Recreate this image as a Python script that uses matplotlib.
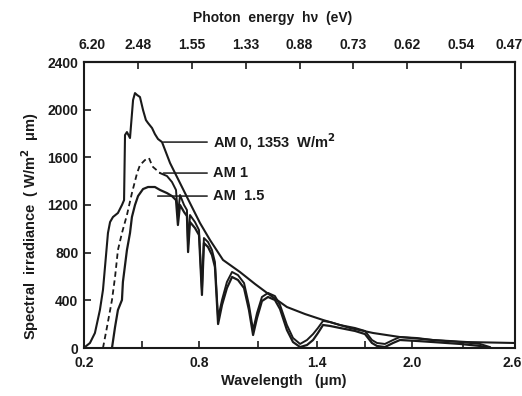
import matplotlib
matplotlib.use("Agg")
import matplotlib.pyplot as plt
import matplotlib.transforms as mtrans
import numpy as np

plt.rcParams['font.family'] = ['Liberation Sans', 'DejaVu Sans']
plt.rcParams['font.weight'] = 'bold'

# ---- data (wavelength in um, spectral irradiance in W/m^2 um) ----
am0_wl = [0.21, 0.231, 0.257, 0.283, 0.299, 0.315, 0.325, 0.336, 0.351, 0.377,
          0.398, 0.409, 0.414, 0.424, 0.44, 0.456, 0.466, 0.477, 0.492, 0.508,
          0.523, 0.534, 0.555, 0.57, 0.586, 0.607, 0.649, 0.701, 0.753, 0.805,
          0.856, 0.922, 1.008, 1.085, 1.146, 1.247, 1.339, 1.438, 1.608, 1.754,
          1.924, 2.122, 2.32, 2.6]
am0_E = [15, 42, 126, 319, 487, 780, 965, 1057, 1099, 1133,
         1200, 1241, 1787, 1812, 1762, 2081, 2139, 2123, 2106, 1997,
         1913, 1888, 1846, 1795, 1754, 1728, 1552, 1384, 1216, 1049,
         906, 739, 638, 537, 462, 344, 285, 235, 168, 126,
         92, 67, 50, 42]

am1_wl = [0.299, 0.32, 0.346, 0.362, 0.377, 0.398, 0.424, 0.45, 0.477, 0.492,
          0.518, 0.539, 0.55, 0.56, 0.597, 0.633, 0.659, 0.68, 0.69, 0.701,
          0.722, 0.737, 0.743, 0.753, 0.779, 0.8, 0.815, 0.825, 0.846, 0.866,
          0.881, 0.897, 0.917, 0.942, 0.968, 0.998, 1.029, 1.054, 1.075, 1.095,
          1.12, 1.151, 1.186, 1.212, 1.247, 1.278, 1.314, 1.349, 1.38, 1.406,
          1.438, 1.482, 1.545, 1.64, 1.703, 1.747, 1.779, 1.829, 1.88, 1.924,
          2.029, 2.122, 2.28, 2.396, 2.454]
am1_E = [0, 176, 403, 596, 822, 965, 1116, 1300, 1468, 1535,
         1577, 1594, 1552, 1519, 1468, 1443, 1393, 1326, 1116, 1284,
         1200, 1158, 864, 1116, 1057, 990, 487, 923, 889, 822,
         722, 252, 403, 554, 638, 612, 545, 361, 151, 294,
         428, 462, 436, 361, 193, 84, 34, 67, 117, 168,
         227, 218, 193, 168, 143, 67, 42, 34, 67, 92,
         84, 67, 50, 34, 8]

am15_wl = [0.346, 0.362, 0.377, 0.398, 0.403, 0.424, 0.44, 0.45, 0.466, 0.482,
           0.508, 0.534, 0.57, 0.597, 0.633, 0.659, 0.68, 0.69, 0.701, 0.722,
           0.737, 0.743, 0.753, 0.779, 0.8, 0.815, 0.825, 0.846, 0.866, 0.881,
           0.897, 0.917, 0.942, 0.968, 0.998, 1.029, 1.054, 1.075, 1.095, 1.12,
           1.151, 1.186, 1.212, 1.247, 1.278, 1.314, 1.349, 1.38, 1.406, 1.438,
           1.482, 1.545, 1.64, 1.703, 1.747, 1.779, 1.829, 1.88, 1.924, 2.029,
           2.122, 2.28, 2.396, 2.454]
am15_E = [0, 176, 319, 403, 554, 822, 965, 1099, 1200, 1275,
          1334, 1351, 1351, 1326, 1300, 1275, 1241, 1032, 1200, 1141,
          1107, 805, 1057, 1007, 948, 445, 881, 847, 780, 680,
          201, 361, 503, 596, 571, 503, 319, 109, 252, 394,
          428, 403, 327, 151, 50, 8, 25, 67, 126, 193,
          185, 168, 143, 117, 42, 17, 8, 42, 67, 59,
          50, 34, 17, 0]

bottom_ticks = [0.2, 0.8, 1.4, 2.0, 2.6]
bottom_labels = ['0.2', '0.8', '1.4', '2.0', '2.6']
bottom_minor = [0.5, 1.1, 1.7, 2.3]
y_ticks = [0, 400, 800, 1200, 1600, 2000, 2400]
top_ticks = [0.2, 0.5, 0.8, 1.1, 1.4, 1.7, 2.0, 2.3, 2.6]
top_labels = ['6.20', '2.48', '1.55', '1.33', '0.88', '0.73', '0.62', '0.54', '0.47']

# the original drawing's wavelength axis is not evenly divided;
# reproduce its spacing with a piecewise-linear scale
scale_wl = np.array([0.2, 0.8, 1.4, 2.0, 2.6])
scale_pos = np.array([0.0, 115.0, 233.0, 328.0, 431.0])


def _pw(v, xs, ys):
    v = np.asarray(v, dtype=float)
    out = np.interp(v, xs, ys)
    lo = v < xs[0]
    hi = v > xs[-1]
    s0 = (ys[1] - ys[0]) / (xs[1] - xs[0])
    s1 = (ys[-1] - ys[-2]) / (xs[-1] - xs[-2])
    out = np.where(lo, ys[0] + (v - xs[0]) * s0, out)
    out = np.where(hi, ys[-1] + (v - xs[-1]) * s1, out)
    return out


def fwd(v):
    return _pw(v, scale_wl, scale_pos)


def inv(v):
    return _pw(v, scale_pos, scale_wl)


ink = '#1a1a1a'

fig = plt.figure(figsize=(5.22, 3.96), dpi=100)
ax = fig.add_axes([84 / 522, 1 - 348 / 396, 431 / 522, 286 / 396])
ax.set_xscale('function', functions=(fwd, inv))

ax.plot(am0_wl, am0_E, color=ink, lw=1.5)
split = 15
ax.plot(am1_wl[:split], am1_E[:split], color=ink, lw=1.3, ls=(0, (3, 2)))
ax.plot(am1_wl[split - 1:], am1_E[split - 1:], color=ink, lw=1.4)
ax.plot(am15_wl, am15_E, color=ink, lw=1.6)

ax.set_xlim(0.2, 2.6)
ax.set_ylim(0, 2400)
ax.set_xticks(bottom_ticks)
ax.set_xticklabels(bottom_labels)
ax.set_xticks(bottom_minor, minor=True)
ax.set_xticklabels([], minor=True)
ax.set_yticks(y_ticks)
ax.set_yticklabels([str(t) for t in y_ticks])
ax.tick_params(axis='both', which='both', direction='in', length=5, width=1.2,
               labelsize=10, colors=ink)
ax.tick_params(axis='x', which='both', pad=6)
ax.tick_params(axis='y', pad=4)
for s in ax.spines.values():
    s.set_linewidth(1.5)
    s.set_color(ink)

top = ax.secondary_xaxis('top', functions=(lambda v: v, lambda v: v))
top.set_xticks(top_ticks)
top.set_xticklabels(top_labels)
top.tick_params(direction='in', length=5, width=1.2, labelsize=10, colors=ink, pad=7)
top.spines['top'].set_linewidth(1.5)

# nudge edge labels so they stay inside the picture
fig.canvas.draw()
tl = top.get_xticklabels()
tl[0].set_transform(tl[0].get_transform() + mtrans.ScaledTranslation(8 / 100, 0, fig.dpi_scale_trans))
tl[-1].set_transform(tl[-1].get_transform() + mtrans.ScaledTranslation(-6 / 100, 0, fig.dpi_scale_trans))
bl = ax.get_xticklabels()
bl[-1].set_transform(bl[-1].get_transform() + mtrans.ScaledTranslation(-3 / 100, 0, fig.dpi_scale_trans))

fig.text(273 / 522, 1 - 18 / 396, 'Photon  energy  h\u03bd  (eV)', fontsize=10,
         fontweight='bold', color=ink, ha='center', va='center')
fig.text(284 / 522, 1 - 381 / 396, 'Wavelength   (\u03bcm)', fontsize=10.5,
         fontweight='bold', color=ink, ha='center', va='center')
fig.text(30 / 522, 1 - 226 / 396, 'Spectral  irradiance  ( W/m$^{\\mathbf{2}}$  \u03bcm)',
         fontsize=10.5, fontweight='bold', color=ink, ha='center', va='center',
         rotation=90)

arrow = dict(arrowstyle='-', color=ink, lw=1.1)
ax.annotate('AM 0, 1353  W/m$^{\\mathbf{2}}$', xy=(0.60, 1728), xytext=(0.87, 1728),
            fontsize=10.5, fontweight='bold', color=ink, va='center', arrowprops=arrow)
ax.annotate('AM 1', xy=(0.60, 1468), xytext=(0.87, 1468),
            fontsize=10.5, fontweight='bold', color=ink, va='center', arrowprops=arrow)
ax.annotate('AM  1.5', xy=(0.57, 1275), xytext=(0.87, 1275),
            fontsize=10.5, fontweight='bold', color=ink, va='center', arrowprops=arrow)

fig.savefig('out.png', dpi=100)
